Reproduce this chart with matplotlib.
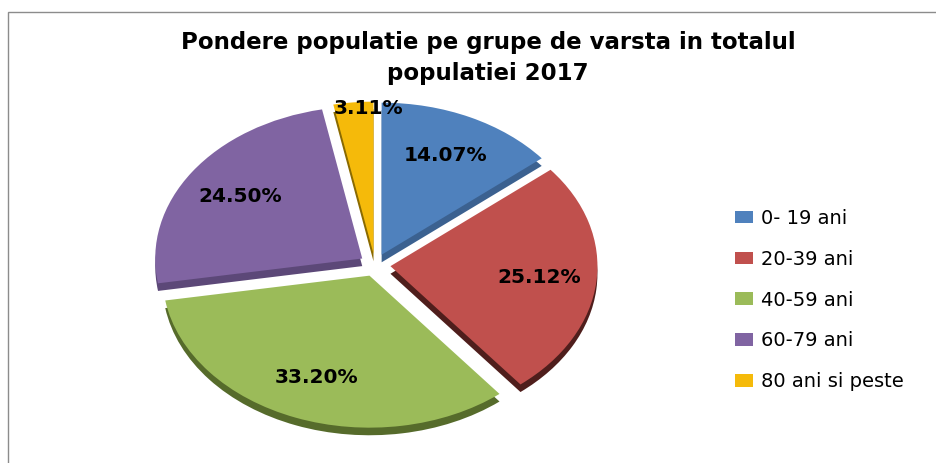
import matplotlib
matplotlib.use("Agg")
import matplotlib.pyplot as plt
from matplotlib.patches import Rectangle

# data
groups = ["0- 19 ani", "20-39 ani", "40-59 ani", "60-79 ani", "80 ani si peste"]
shares = [14.07, 25.12, 33.20, 24.50, 3.11]
colors = ["#4F81BD", "#C0504D", "#9BBB59", "#8064A2", "#F5BA0A"]
side_colors = ["#3B6190", "#4F1E1C", "#566B2B", "#5C4878", "#8A6A00"]
title = "Pondere populatie pe grupe de varsta in totalul\npopulatiei 2017"

W, H = 936, 463
fig = plt.figure(figsize=(W / 100, H / 100), dpi=100)

# chart-area border (gray frame, runs off the right/bottom edge)
fig.add_artist(Rectangle((8 / W, -0.05), 1.0, 1 - 12 / H + 0.05,
                         transform=fig.transFigure, fill=False,
                         edgecolor="#8C8C8C", lw=1.0))

# ellipse: 1 data unit = 207 px wide, 152 px tall -> tilted look
rx, ry, cx, cy = 207, 152, 375, 265
lim = 1.3
ax = fig.add_axes([(cx - lim * rx) / W, (H - cy - lim * ry) / H,
                   2 * lim * rx / W, 2 * lim * ry / H])
explode = [0.075] * len(shares)

# side of the 3D pie: darker copy shifted down
ax.pie(shares, explode=explode, colors=side_colors, startangle=90,
       counterclock=False, center=(0, -0.05), wedgeprops=dict(lw=0))
wedges, _, autotexts = ax.pie(
    shares, explode=explode, colors=colors, startangle=90, counterclock=False,
    autopct="%.2f%%", pctdistance=0.72, wedgeprops=dict(lw=0),
    textprops=dict(fontsize=14.5, fontweight="bold", color="black"))
# small slice label sits at the rim
x, y = autotexts[-1].get_position()
autotexts[-1].set_position((x * 0.4, y * 1.3))

ax.set_aspect("auto")
ax.set_xlim(-lim, lim)
ax.set_ylim(-lim, lim)
ax.axis("off")

fig.text(488 / W, 1 - 58 / H, title, ha="center", va="center",
         fontsize=16.5, fontweight="bold", linespacing=1.45)

fig.legend(wedges, groups, loc="center left",
           bbox_to_anchor=(735 / W, (H - 300) / H), frameon=False,
           fontsize=14, handlelength=0.9, handleheight=0.62,
           handletextpad=0.45, labelspacing=1.12, borderpad=0,
           borderaxespad=0)

fig.savefig("out.png", dpi=100)
